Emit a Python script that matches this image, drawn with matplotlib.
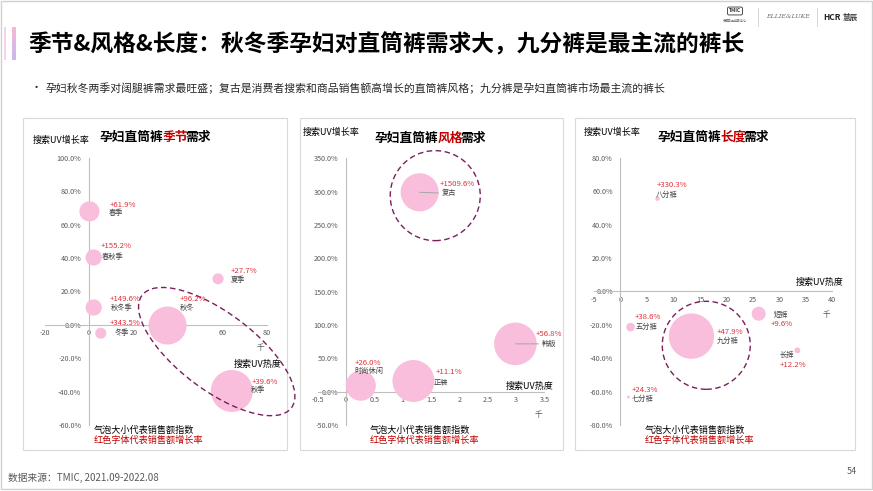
import matplotlib
matplotlib.use('Agg')
import matplotlib.pyplot as plt
import numpy as np
from matplotlib.patches import Ellipse, Rectangle
from matplotlib.transforms import ScaledTranslation
from matplotlib.ticker import FuncFormatter, MultipleLocator

plt.rcParams['font.family'] = ['Noto Sans CJK SC', 'DejaVu Sans']

W, H = 873, 491
PINK = '#F9BEDC'
RED = '#E0303A'
DARKRED = '#C00000'
RING = '#7A1F5C'
GREY = '#595959'

# ---- data: 季节 ----
season_names = ['春季', '春秋季', '秋冬季', '冬季', '夏季', '秋冬', '秋季']
season_uv = [0.2, 2.1, 2.1, 5.3, 58.0, 35.3, 64.2]          # 搜索UV热度(千)
season_growth = [68.0, 40.4, 10.4, -5.0, 27.6, -0.4, -39.6]  # 搜索UV增长率(%)
season_sales_idx = [23, 15, 15, 7, 7, 82, 100]               # 销售额指数
season_sales_growth = [61.9, 155.2, 149.6, 343.5, 27.7, 96.2, 39.6]

# ---- data: 风格 ----
style_names = ['复古', '韩版', '时尚休闲', '正装']
style_uv = [1.30, 2.99, 0.26, 1.19]
style_growth = [299.0, 71.7, 9.0, 16.0]
style_sales_idx = [80, 100, 50, 97]
style_sales_growth = [1509.6, 56.8, 26.0, 11.1]

# ---- data: 长度 ----
length_names = ['八分裤', '五分裤', '九分裤', '短裤', '长裤', '七分裤']
length_uv = [7.0, 1.9, 13.4, 26.1, 33.4, 1.5]
length_growth = [55.5, -21.4, -26.8, -13.4, -35.3, -63.3]
length_sales_idx = [1.0, 3.6, 100, 9.5, 1.7, 0.4]
length_sales_growth = [330.3, 38.6, 47.9, 9.6, 12.2, 24.3]

# label offsets in px: (value label dx, dy), (name label dx, dy)
season_offs = [((20.7, 6.7), (19, -1.7)), ((6.7, 11), (7.7, 0)), ((16, 8.7), (16.7, -0.7)),
               ((9, 10), (14, 0)), ((12.7, 8), (13, -1.3)), ((12.3, 26.7), (12.3, 17.3)),
               ((20, 8.7), (19.3, 1.3))]
style_offs = [((20, 8), (21.7, -1)), ((20.7, 10), (26, 0)), ((-5.7, 22.7), (-6.7, 15)),
              ((22, 8.7), (20, -1.3))]
length_offs = [((-1.3, 14), (-1.3, 3.3)), ((4, 9.7), (5.3, 0)), ((25, 4), (25, -4.3)),
               ((12.3, -10.7), (15.3, -0.7)), ((-17.3, -14.3), (-18, -4.3)),
               ((3.7, 7), (3.7, -2.3))]


def px(x, y):
    return x / W, 1 - y / H


def px_rect(x0, y0, x1, y1):
    return [x0 / W, 1 - y1 / H, (x1 - x0) / W, (y1 - y0) / H]


fig = plt.figure(figsize=(8.73, 4.91), dpi=100)
fig.patch.set_facecolor('white')

# slide border
fig.patches.append(Rectangle((0.001, 0.004), 0.998, 0.994, transform=fig.transFigure,
                             fill=False, edgecolor='#D0D0D0', lw=1, zorder=-2))

# left accent bars
grad = fig.add_axes(px_rect(12, 27, 16, 60))
grad.imshow(np.linspace(0, 1, 50).reshape(-1, 1), aspect='auto',
            cmap=matplotlib.colors.LinearSegmentedColormap.from_list('g', ['#F6B8D8', '#C7B9EE']))
grad.axis('off')
fig.patches.append(Rectangle(px(4, 60), 2 / W, 33 / H, transform=fig.transFigure,
                             color='#F5D3E6', lw=0))

fig.text(*px(28, 45), '季节&风格&长度：秋冬季孕妇对直筒裤需求大，九分裤是最主流的裤长',
         fontsize=16.4, fontweight='bold', color='black', va='center')
fig.text(*px(31, 88), '•', fontsize=8, color='#262626', va='center')
fig.text(*px(45, 88), '孕妇秋冬两季对阔腿裤需求最旺盛；复古是消费者搜索和商品销售额高增长的直筒裤风格；九分裤是孕妇直筒裤市场最主流的裤长',
         fontsize=7.8, color='#262626', va='center')

# logos
fig.text(*px(735, 11), 'TMIC', fontsize=3.5, fontweight='bold', ha='center', va='center', color='#333333',
         bbox=dict(boxstyle='round,pad=0.3', fc='white', ec='#333333', lw=0.6))
fig.text(*px(735, 21), '天猫新品创新中心', fontsize=2.2, ha='center', va='center', color='#555555')
fig.lines.append(plt.Line2D([758 / W, 758 / W], [1 - 8 / H, 1 - 26 / H], transform=fig.transFigure,
                            color='#CCCCCC', lw=0.6))
fig.text(*px(788, 17), 'ELLIE&LUKE', fontsize=4.5, family='DejaVu Serif', style='italic',
         ha='center', va='center', color='#666666')
fig.lines.append(plt.Line2D([817 / W, 817 / W], [1 - 8 / H, 1 - 26 / H], transform=fig.transFigure,
                            color='#CCCCCC', lw=0.6))
fig.text(*px(823, 17), 'HCR', fontsize=6, fontweight='bold', ha='left', va='center', color='#222222')
fig.text(*px(843, 17), '慧辰', fontsize=5.5, fontweight='bold', ha='left', va='center', color='#444444')

fig.text(*px(8, 478), '数据来源：TMIC, 2021.09-2022.08', fontsize=7, color=GREY, va='center')
fig.text(*px(852, 472), '54', fontsize=6.5, color=GREY, va='center', ha='center')


def pct(v, _):
    return f'{v:.1f}%'


def draw_panel(frame, box, xlim, ylim, xstep, ystep, uv, gr, idx, sg, names, offs,
               rmax, ring, red_word, lead=(), pos=None):
    fig.patches.append(Rectangle((frame[0] / W, 1 - frame[3] / H), (frame[2] - frame[0]) / W,
                                 (frame[3] - frame[1]) / H, transform=fig.transFigure,
                                 fc='white', ec='#D9D9D9', lw=0.8, zorder=-1))
    ax = fig.add_axes(px_rect(*box))
    ax.set_facecolor('none')
    ax.set_xlim(*xlim)
    ax.set_ylim(*ylim)
    ax.xaxis.set_major_locator(MultipleLocator(xstep))
    ax.yaxis.set_major_locator(MultipleLocator(ystep))
    ax.yaxis.set_major_formatter(FuncFormatter(pct))
    ax.xaxis.set_major_formatter(FuncFormatter(lambda v, _: f'{v:g}'))
    for sp in ['top', 'right']:
        ax.spines[sp].set_visible(False)
    for sp in ['left', 'bottom']:
        ax.spines[sp].set_position(('data', 0))
        ax.spines[sp].set_color('#BFBFBF')
        ax.spines[sp].set_linewidth(0.8)
    ax.tick_params(length=0, labelsize=5.2, labelcolor=GREY)
    ax.tick_params(axis='y', pad=5.5)
    ax.tick_params(axis='x', pad=3)

    sizes = [(1.44 * rmax * np.sqrt(v / 100)) ** 2 for v in idx]
    ax.scatter(uv, gr, s=sizes, color=PINK, edgecolors='none', zorder=3, clip_on=False)
    for i in range(len(names)):
        (vdx, vdy), (ndx, ndy) = offs[i]
        ax.annotate(f'+{sg[i]:.1f}%', (uv[i], gr[i]), xytext=(vdx * 0.72, vdy * 0.72),
                    textcoords='offset points', color=RED, fontsize=5.6, ha='left', va='center',
                    zorder=5, annotation_clip=False)
        ap = None
        if i in lead:
            ap = dict(arrowstyle='-', color='#A6A6A6', lw=0.7, shrinkA=0, shrinkB=0)
        ax.annotate(names[i], (uv[i], gr[i]), xytext=(ndx * 0.72, ndy * 0.72),
                    textcoords='offset points', color='#404040', fontsize=5.2, ha='left',
                    va='center', zorder=5, arrowprops=ap, annotation_clip=False)

    cx, cy, w, h, ang = ring
    ell = Ellipse((0, 0), w, h, angle=ang, fill=False, ec=RING, lw=1.0, ls=(0, (4, 2.5)),
                  transform=fig.dpi_scale_trans + ScaledTranslation(cx, cy, ax.transData),
                  clip_on=False, zorder=4)
    ax.add_artist(ell)

    # panel texts
    tx, ty = pos['title']
    t1 = fig.text(*px(tx - 57, ty), '孕妇直筒裤', fontsize=9.2, fontweight='bold', ha='left', va='center')
    t2 = ax.annotate(red_word, xy=(1, 0.5), xycoords=t1, fontsize=9.2, fontweight='bold',
                     color=DARKRED, ha='left', va='center', annotation_clip=False)
    ax.annotate('需求', xy=(1, 0.5), xycoords=t2, xytext=(-2, 0), textcoords='offset points',
                fontsize=9.2, fontweight='bold', ha='left', va='center', annotation_clip=False)
    fig.text(*px(*pos['ytitle']), '搜索UV增长率', fontsize=6.5, ha='left', va='center')
    fig.text(*px(*pos['xtitle']), '搜索UV热度', fontsize=6.5, ha='center', va='center')
    fig.text(*px(*pos['unit']), '千', fontsize=5.5, color=GREY, ha='center', va='center')
    nx, ny = pos['note']
    fig.text(*px(nx, ny), '气泡大小代表销售额指数', fontsize=6.6, ha='left', va='center')
    fig.text(*px(nx, ny + 10), '红色字体代表销售额增长率', fontsize=6.6, color=DARKRED,
             ha='left', va='center')
    return ax


draw_panel((23, 118, 287, 450), (44.5, 158, 267, 425), (-20, 80), (-60, 100), 20, 20,
           season_uv, season_growth, season_sales_idx, season_sales_growth, season_names,
           season_offs, 21, (57.4, -16, 1.87, 0.77, -37), '季节',
           pos=dict(title=(156, 137), ytitle=(33, 140), xtitle=(258, 364), unit=(260, 348),
                    note=(94, 430)))

draw_panel((300, 118, 563, 450), (317.7, 158.3, 544.3, 425), (-0.5, 3.5), (-50, 350), 0.5, 50,
           style_uv, style_growth, style_sales_idx, style_sales_growth, style_names,
           style_offs, 21.3, (1.575, 294, 0.90, 0.90, 0), '风格', lead=(0, 1),
           pos=dict(title=(431, 138), ytitle=(303, 132), xtitle=(530, 386), unit=(538, 415),
                    note=(370, 430)))

draw_panel((575, 118, 855, 450), (594, 157.7, 832.3, 425), (-5, 40), (-80, 80), 5, 20,
           length_uv, length_growth, length_sales_idx, length_sales_growth, length_names,
           length_offs, 22.7, (16.2, -32.3, 0.88, 0.88, 0), '长度',
           pos=dict(title=(714, 137), ytitle=(584, 132), xtitle=(820, 282), unit=(826, 315),
                    note=(645, 430)))

fig.savefig('out.png', dpi=100, facecolor='white')
